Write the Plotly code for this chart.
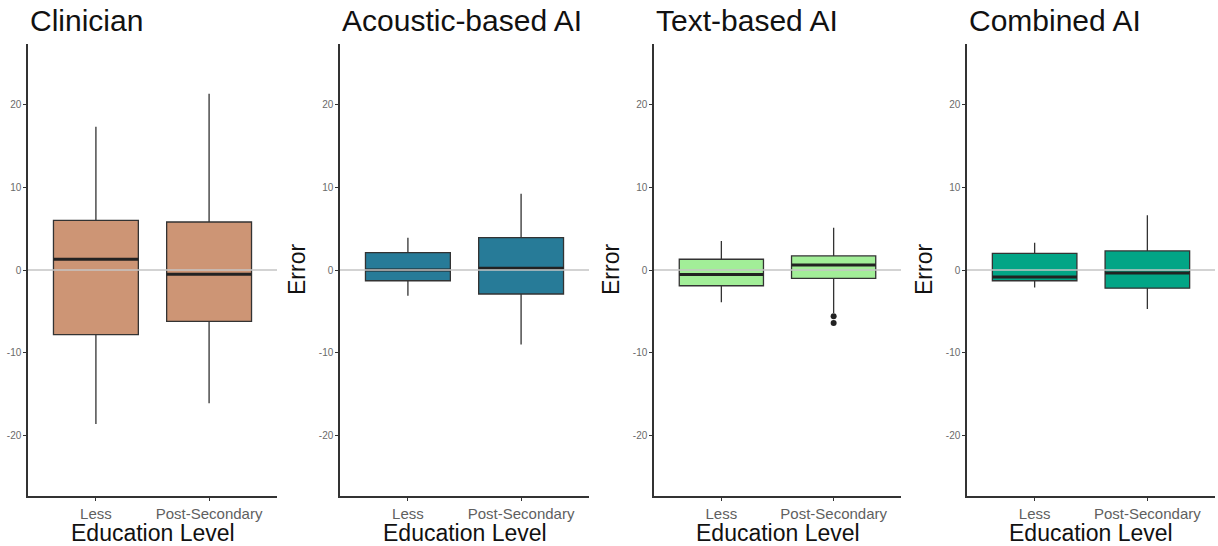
import plotly.graph_objects as go

# ---------------- data ----------------
categories = ["Less", "Post-Secondary"]
panel_titles = ["Clinician", "Acoustic-based AI", "Text-based AI", "Combined AI"]
fill_colors = ["#CD9575", "#277B98", "#A2EE98", "#02A586"]

# per panel: [Less, Post-Secondary]
lower_whisker = [[-18.6, -16.1], [-3.1, -9.0], [-3.9, -5.2], [-2.1, -4.7]]
q1_values     = [[-7.8, -6.2], [-1.3, -2.9], [-1.9, -1.0], [-1.3, -2.2]]
median_values = [[1.3, -0.5], [0.0, 0.2], [-0.55, 0.6], [-0.85, -0.35]]
q3_values     = [[6.0, 5.8], [2.1, 3.9], [1.3, 1.7], [2.0, 2.3]]
upper_whisker = [[17.3, 21.3], [3.9, 9.2], [3.5, 5.1], [3.3, 6.6]]

# outliers: (panel index, category, value)
outlier_panel = [2, 2]
outlier_category = ["Post-Secondary", "Post-Secondary"]
outlier_values = [-5.6, -6.4]

y_ticks = [-20, -10, 0, 10, 20]

# ---------------- layout ----------------
W, H = 1218, 546
panel_px = [(28, 277), (340, 589), (654, 901), (967, 1215)]
plot_top, plot_bottom = 44, 496
box_width = 0.75
x_pos = {c: i + 1 for i, c in enumerate(categories)}

def fx(px):
    return px / W

def fy(py):
    return (H - py) / H

fig = go.Figure()
axis_color = "#333333"
FAM = "Liberation Sans, Arial, sans-serif"
tick_font = dict(family=FAM, size=10, color="#6a6a6a")
cat_font = dict(family=FAM, size=15, color="#5f5f5f")
title_font = dict(family=FAM, size=30, color="#111111")
axtitle_font = dict(family=FAM, size=23, color="#111111")

for p in range(4):
    ax = "" if p == 0 else str(p + 1)
    xref, yref = "x" + ax, "y" + ax
    xs = [x_pos[c] for c in categories]
    fig.add_trace(go.Box(
        x=xs,
        q1=q1_values[p], median=median_values[p], q3=q3_values[p],
        lowerfence=lower_whisker[p], upperfence=upper_whisker[p],
        width=box_width, whiskerwidth=0,
        fillcolor=fill_colors[p],
        line=dict(color=axis_color, width=1.3),
        boxpoints=False, showlegend=False, hoverinfo="skip",
        xaxis=xref, yaxis=yref,
    ))
    # thick median lines
    mx, my = [], []
    for c, m in zip(categories, median_values[p]):
        mx += [x_pos[c] - box_width / 2, x_pos[c] + box_width / 2, None]
        my += [m, m, None]
    fig.add_trace(go.Scatter(
        x=mx, y=my, mode="lines", line=dict(color="#222222", width=3),
        showlegend=False, hoverinfo="skip", xaxis=xref, yaxis=yref,
    ))
    # outliers
    ox = [x_pos[c] for pi, c in zip(outlier_panel, outlier_category) if pi == p]
    oy = [v for pi, v in zip(outlier_panel, outlier_values) if pi == p]
    if ox:
        fig.add_trace(go.Scatter(
            x=ox, y=oy, mode="markers", marker=dict(color="#222222", size=6),
            showlegend=False, hoverinfo="skip", xaxis=xref, yaxis=yref,
        ))
    # zero reference line on top
    fig.add_shape(type="line", xref=xref + " domain", yref=yref,
                  x0=0, x1=1, y0=0, y1=0, layer="above",
                  line=dict(color="#C4C4C4", width=1.6))

    x0, x1 = panel_px[p]
    fig.layout["xaxis" + ax] = dict(
        domain=[fx(x0), fx(x1)], range=[0.4, 2.6], anchor=yref,
        tickvals=xs, ticktext=categories, tickfont=cat_font,
        showline=True, linecolor=axis_color, linewidth=1.5,
        ticks="outside", ticklen=3, tickcolor=axis_color,
        showgrid=False, zeroline=False, fixedrange=True,
    )
    fig.layout["yaxis" + ax] = dict(
        domain=[fy(plot_bottom), fy(plot_top)], range=[-27.3, 27.3], anchor=xref,
        tickvals=y_ticks, ticktext=[str(v) for v in y_ticks], tickfont=tick_font,
        showline=True, linecolor=axis_color, linewidth=1.5,
        ticks="outside", ticklen=3, tickcolor=axis_color,
        showgrid=False, zeroline=False, fixedrange=True,
    )
    # panel title
    fig.add_annotation(text=panel_titles[p], xref="paper", yref="paper",
                       x=fx(x0), y=fy(21), xanchor="left", yanchor="middle",
                       showarrow=False, font=title_font)
    # x axis title
    fig.add_annotation(text="Education Level", xref="paper", yref="paper",
                       x=fx((x0 + x1) / 2), y=fy(533), xanchor="center", yanchor="middle",
                       showarrow=False, font=axtitle_font)
    # y axis title (not on first panel)
    if p > 0:
        fig.add_annotation(text="Error", xref="paper", yref="paper",
                           x=fx(x0 - 43), y=fy(270), xanchor="center", yanchor="middle",
                           textangle=-90, showarrow=False, font=axtitle_font)

fig.update_layout(
    width=W, height=H, margin=dict(l=0, r=0, t=0, b=0),
    plot_bgcolor="white", paper_bgcolor="white",
)

fig.write_html("out.html", config={"displayModeBar": False},
               post_script="document.body.style.margin='0px';document.body.style.overflow='hidden';")
